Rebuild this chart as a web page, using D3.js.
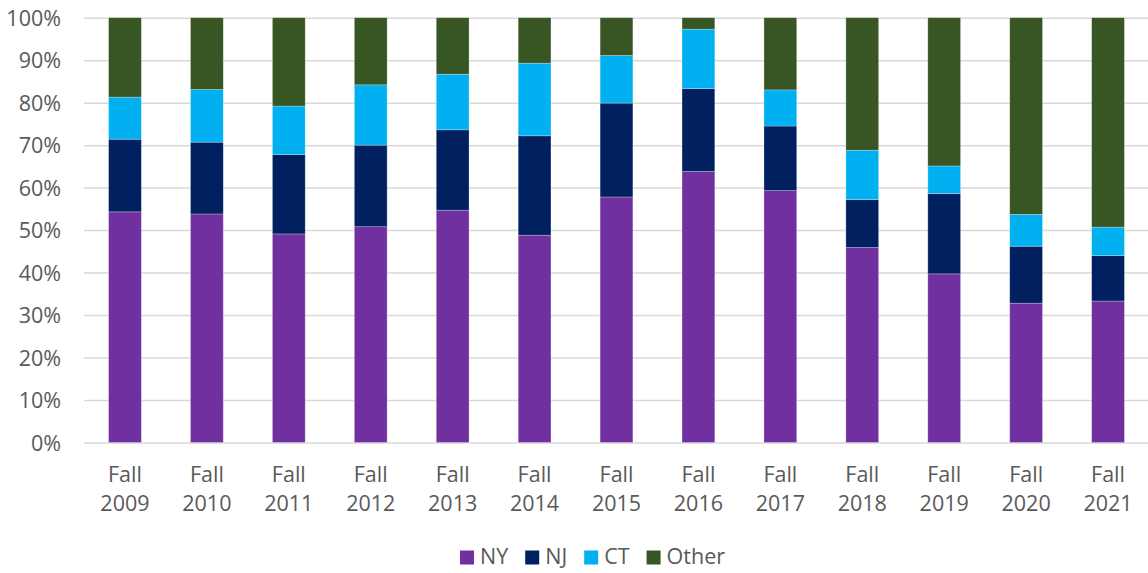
<html>
  <meta charset="utf-8" />
  <script src="https://d3js.org/d3.v7.min.js"></script>
  <style>
    body { margin: 0; background: #fff; }
    text { font-family: "Open Sans", sans-serif; fill: #595959; }
  </style>
  <body>
    <svg width="1148" height="573" id="chart"></svg>
    <script>
      const years = ["2009", "2010", "2011", "2012", "2013", "2014", "2015",
        "2016", "2017", "2018", "2019", "2020", "2021"];
      const seriesNames = ["NY", "NJ", "CT", "Other"];
      const ny = [54.3, 53.8, 49.1, 50.8, 54.7, 48.8, 57.8, 63.8, 59.3, 45.9, 39.7, 32.8, 33.3];
      const nj = [17.1, 16.9, 18.7, 19.2, 18.9, 23.4, 22.1, 19.5, 15.2, 11.3, 18.9, 13.4, 10.7];
      const ct = [9.9, 12.4, 11.4, 14.2, 13.1, 17.1, 11.2, 14.0, 8.5, 11.6, 6.5, 7.5, 6.7];
      const other = [18.7, 16.9, 20.8, 15.8, 13.3, 10.7, 8.9, 2.7, 17.0, 31.2, 34.9, 46.3, 49.3];
      const yTicks = [0, 10, 20, 30, 40, 50, 60, 70, 80, 90, 100];
      const colors = ["#7030a0", "#002060", "#00b0f0", "#375623"];

      const data = years.map((y, i) => ({
        year: y, NY: ny[i], NJ: nj[i], CT: ct[i], Other: other[i]
      }));

      const svg = d3.select("#chart");
      const plotLeft = 84, plotRight = 1149, plotTop = 17.7, plotBottom = 442.5;

      const x = d3.scaleBand().domain(years).range([plotLeft, plotRight])
        .paddingInner(0.6).paddingOuter(0.3);
      const y = d3.scaleLinear().domain([0, 100]).range([plotBottom, plotTop]);
      const color = d3.scaleOrdinal().domain(seriesNames).range(colors);

      // gridlines + y labels
      const yAxis = svg.append("g")
        .attr("transform", `translate(${plotLeft},0)`)
        .call(d3.axisLeft(y).tickValues(yTicks).tickFormat((d) => d + "%")
          .tickSize(-(plotRight - plotLeft)).tickPadding(23));
      yAxis.select(".domain").remove();
      yAxis.selectAll("line").attr("stroke", "#d9d9d9").attr("stroke-width", 1.5);
      yAxis.selectAll("text").attr("font-size", "21.5px")
        .attr("font-family", "Open Sans").attr("fill", "#595959").attr("dy", "0.36em");

      // stacked bars
      const stack = d3.stack().keys(seriesNames)(data);
      svg.append("g").selectAll("g").data(stack).enter().append("g")
        .attr("fill", (d) => color(d.key))
        .selectAll("rect").data((d) => d).enter().append("rect")
        .attr("x", (d) => x(d.data.year))
        .attr("width", x.bandwidth())
        .attr("y", (d) => y(d[1]))
        .attr("height", (d) => y(d[0]) - y(d[1]))
        .attr("stroke", "#ffffff").attr("stroke-opacity", 0.35).attr("stroke-width", 0.75);

      // x labels (two lines)
      const xl = svg.append("g").selectAll("text").data(years).enter().append("text")
        .attr("text-anchor", "middle")
        .attr("font-size", "21.5px")
        .attr("x", (d) => x(d) + x.bandwidth() / 2);
      xl.append("tspan").attr("x", (d) => x(d) + x.bandwidth() / 2).attr("y", 482).text("Fall");
      xl.append("tspan").attr("x", (d) => x(d) + x.bandwidth() / 2).attr("y", 510.5).text((d) => d);

      // legend
      const legend = svg.append("g");
      let lx = 460;
      seriesNames.forEach((name) => {
        legend.append("rect").attr("x", lx).attr("y", 550.5)
          .attr("width", 14).attr("height", 14).attr("fill", color(name));
        const t = legend.append("text").attr("x", lx + 20).attr("y", 564.3)
          .attr("font-size", "21.5px").text(name);
        lx += 20 + t.node().getComputedTextLength() + 17;
      });
    </script>
  </body>
</html>
